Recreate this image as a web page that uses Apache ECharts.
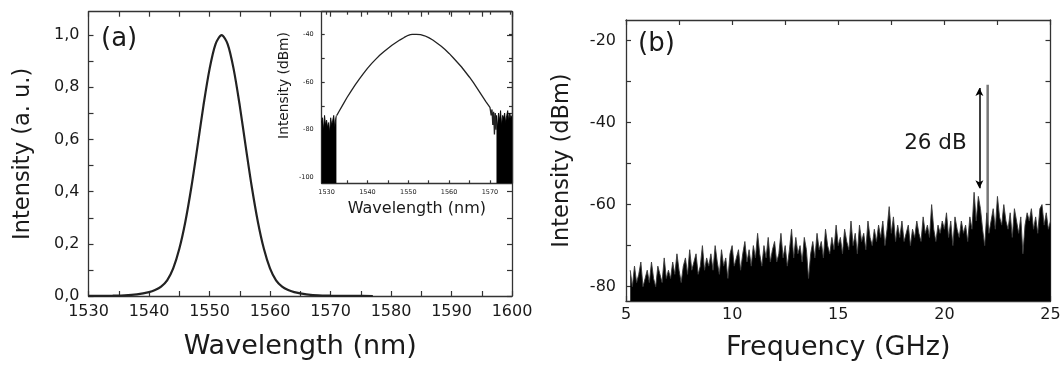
<!DOCTYPE html>
<html><head><meta charset="utf-8">
<script src="https://cdn.jsdelivr.net/npm/echarts@6/dist/echarts.min.js"></script>
<style>html,body{margin:0;padding:0;background:#fff}#c{width:1061px;height:365px}</style>
</head><body><div id="c"></div>
<script>
// ---------- Panel (a): main spectrum ----------
const mainWavelength = [1530,1532,1534,1536,1538,1540,1541,1542,1543,1544,1545,1546,1547,1548,1549,1550,1551,1552,1553,1554,1555,1556,1557,1558,1559,1560,1561,1562,1563,1564,1565,1566,1568,1570,1572,1574,1577];
const mainIntensity  = [0.0001,0.0005,0.0012,0.0025,0.0065,0.015,0.023,0.036,0.060,0.106,0.180,0.284,0.417,0.571,0.730,0.869,0.966,1.0,0.966,0.869,0.730,0.571,0.417,0.284,0.180,0.106,0.060,0.036,0.023,0.015,0.010,0.0065,0.0025,0.0012,0.0005,0.0002,0];
const mainXLabels = [1530,1540,1550,1560,1570,1580,1590,1600];
const mainXTicks  = [1530,1535,1540,1545,1550,1555,1560,1565,1570,1575,1580,1585,1590,1595,1600];
const mainYLabels = [0,0.2,0.4,0.6,0.8,1.0];
const mainYTicks  = [0,0.1,0.2,0.3,0.4,0.5,0.6,0.7,0.8,0.9,1.0];

// ---------- Panel (a) inset: log spectrum ----------
const insetWavelength = [1532.5,1533,1534,1535,1536,1537,1538,1539,1540,1541,1542,1543,1544,1545,1546,1547,1548,1549,1550,1550.5,1551,1552,1553,1554,1555,1556,1557,1558,1559,1560,1561,1562,1563,1564,1565,1566,1567,1568,1569,1570,1570.3,1570.5,1570.7,1570.9,1571.1,1571.3,1571.5,1571.6];
const insetDbm        = [-74,-72.5,-69.5,-66.5,-63.8,-61.2,-58.8,-56.5,-54.3,-52.3,-50.5,-48.8,-47.3,-45.9,-44.6,-43.4,-42.3,-41.3,-40.4,-40.1,-40,-40,-40.1,-40.6,-41.4,-42.4,-43.6,-44.9,-46.4,-48.0,-49.8,-51.7,-53.6,-55.8,-58.0,-60.4,-63.0,-65.6,-68.2,-70.6,-74,-71.5,-78,-72.5,-82,-73,-80,-74];
const insetNoiseLeftWl  = [1528.8,1529.0,1529.25,1529.5,1529.75,1530.0,1530.25,1530.5,1530.75,1531.0,1531.25,1531.5,1531.75,1532.0,1532.25,1532.4];
const insetNoiseLeftDbm = [-77,-75,-80,-74,-78,-76,-79,-77,-81,-75,-78,-76,-74,-79,-75,-74];
const insetNoiseRightWl  = [1571.6,1571.85,1572.1,1572.35,1572.6,1572.85,1573.1,1573.35,1573.6,1573.85,1574.1,1574.35,1574.6,1574.85,1575.1,1575.4];
const insetNoiseRightDbm = [-74,-79,-73,-76,-72,-78,-74,-75,-73,-77,-74,-72,-76,-73,-75,-74];
const insetXLabels = [1530,1540,1550,1560,1570];
const insetXTicks  = [1530,1535,1540,1545,1550,1555,1560,1565,1570,1575];
const insetYLabels = [-100,-80,-60,-40];
const insetYTicks  = [-100,-90,-80,-70,-60,-50,-40];

// ---------- Panel (b): RF spectrum ----------
const noiseFreqStart = 5.2, noiseFreqStep = 0.1;
const noiseDbm = [
 -76,-80,-75,-79,-77,-74,-80,-78,
 -76,-79,-74,-78,-80,-75,-77,-79,-73,-78,
 -76,-78,-74,-77,-72,-76,-79,-75,-73,-77,
 -71,-76,-74,-72,-77,-75,-70,-76,-73,-75,
 -72,-76,-70,-74,-77,-71,-75,-73,-78,-72,
 -70,-75,-73,-71,-76,-72,-69,-74,-71,-75,
 -70,-73,-67,-72,-75,-70,-73,-68,-74,-71,
 -69,-74,-72,-67,-73,-70,-75,-71,-66,-73,
 -68,-72,-70,-74,-68,-71,-78,-72,-69,-73,
 -67,-71,-69,-73,-66,-70,-72,-68,-71,-65,
 -70,-68,-72,-66,-69,-71,-64,-70,-67,-72,
 -65,-69,-67,-71,-64,-68,-70,-66,-69,-65,
 -68,-64,-70,-66,-60.5,-67,-63,-69,-65,-68,
 -64,-69,-67,-65,-70,-66,-68,-64,-67,-69,
 -63,-67,-65,-68,-60,-66,-69,-65,-67,-64,
 -66,-62,-68,-64,-70,-63,-66,-68,-64,-67,
 -65,-69,-63,-66,-57,-64,-58,-61,-66,-70,
 -62,-67,-64,-61,-66,-58,-63,-65,-60,-64,
 -66,-62,-68,-61,-64,-67,-63,-72,-65,-62,
 -64,-61,-66,-63,-67,-61,-60,-65,-62,-66,
 -64];
const signalFreq = 22.04, signalDbm = -30.8;
const arrowFreq = 21.65, arrowTopDbm = -31.6, arrowBottomDbm = -56.0;
const gapLabel = '26 dB', gapLabelFreq = 19.58, gapLabelDbm = -45.2;
const bXLabels = [5,10,15,20,25];
const bXTicks  = [5,7.5,10,12.5,15,17.5,20,22.5,25];
const bYLabels = [-80,-60,-40,-20];
const bYTicks  = [-80,-70,-60,-50,-40,-30,-20];
const bYMin = -83.5, bYMax = -15;

// ---------- build ----------
const zip = (xs, ys) => xs.map((x, i) => [x, ys[i]]);
const noiseData = noiseDbm.map((v, i) => [+(noiseFreqStart + i * noiseFreqStep).toFixed(2), v]);

const FONT = 'DejaVu Sans';
const AX = '#333';
const TXT = '#1a1a1a';
const plain = v => String(v);

function ax(o) {
  const base = {
    type: 'value', splitLine: {show: false},
    axisLine: {show: true, onZero: false, lineStyle: {color: AX, width: 1.3}},
    axisTick: {show: true, inside: true, length: o._tl || 5, lineStyle: {color: AX, width: 1.2}, customValues: o._ticks},
    axisLabel: o._labels ? {show: true, customValues: o._labels, fontFamily: FONT, fontSize: o._fs || 16, color: TXT, margin: o._lm || 8, formatter: o._fmt || plain} : {show: false},
    nameTextStyle: {fontFamily: FONT, color: TXT}
  };
  const r = Object.assign(base, o);
  delete r._tl; delete r._ticks; delete r._labels; delete r._fs; delete r._lm; delete r._fmt;
  return r;
}

const chart = echarts.init(document.getElementById('c'), null, {renderer: 'canvas'});
chart.setOption({
  animation: false,
  backgroundColor: '#fff',
  grid: [
    {left: 88.5, top: 11.7, width: 423.5, height: 284.3, outerBoundsMode: 'none', containLabel: false},
    {left: 321.7, top: 11.7, width: 190.3, height: 171.6, show: true, backgroundColor: '#fff', borderWidth: 0, outerBoundsMode: 'none', containLabel: false},
    {left: 626, top: 20, width: 424.5, height: 281, outerBoundsMode: 'none', containLabel: false}
  ],
  xAxis: [
    ax({gridIndex: 0, position: 'bottom', min: 1530, max: 1600, _ticks: mainXTicks, _labels: mainXLabels, _lm: 8,
        name: 'Wavelength (nm)', nameLocation: 'middle', nameGap: 37, nameTextStyle: {fontFamily: FONT, fontSize: 27, color: TXT}}),
    ax({gridIndex: 0, position: 'top', min: 1530, max: 1600, _ticks: mainXTicks}),
    ax({gridIndex: 1, position: 'bottom', min: 1528.8, max: 1575.4, _ticks: insetXTicks, _labels: insetXLabels, _fs: 6.5, _lm: 6, _tl: 3,
        name: 'Wavelength (nm)', nameLocation: 'middle', nameGap: 18, nameTextStyle: {fontFamily: FONT, fontSize: 16, color: TXT}}),
    ax({gridIndex: 1, position: 'top', min: 1528.8, max: 1575.4, _ticks: insetXTicks, _tl: 3}),
    ax({gridIndex: 2, position: 'bottom', min: 5, max: 25, _ticks: bXTicks, _labels: bXLabels, _lm: 6,
        name: 'Frequency (GHz)', nameLocation: 'middle', nameGap: 33, nameTextStyle: {fontFamily: FONT, fontSize: 27, color: TXT}}),
    ax({gridIndex: 2, position: 'top', min: 5, max: 25, _ticks: bXTicks})
  ],
  yAxis: [
    ax({gridIndex: 0, position: 'left', min: 0, max: 1.09, _ticks: mainYTicks, _labels: mainYLabels, _lm: 9,
        _fmt: v => v.toFixed(1).replace('.', ','),
        name: 'Intensity (a. u.)', nameLocation: 'middle', nameGap: 54, nameTextStyle: {fontFamily: FONT, fontSize: 22.5, color: TXT}}),
    ax({gridIndex: 0, position: 'right', min: 0, max: 1.09, _ticks: mainYTicks}),
    ax({gridIndex: 1, position: 'left', min: -102.5, max: -30.5, _ticks: insetYTicks, _labels: insetYLabels, _fs: 6.5, _lm: 8, _tl: 3,
        name: 'Intensity (dBm)', nameLocation: 'middle', nameGap: 30, nameTextStyle: {fontFamily: FONT, fontSize: 13.8, color: TXT, padding: [0, 0, 0, 24]}}),
    ax({gridIndex: 1, position: 'right', min: -102.5, max: -30.5, _ticks: insetYTicks, _tl: 3}),
    ax({gridIndex: 2, position: 'left', min: bYMin, max: bYMax, _ticks: bYTicks, _labels: bYLabels, _lm: 10,
        name: 'Intensity (dBm)', nameLocation: 'middle', nameGap: 52, nameTextStyle: {fontFamily: FONT, fontSize: 22.5, color: TXT}}),
    ax({gridIndex: 2, position: 'right', min: bYMin, max: bYMax, _ticks: bYTicks})
  ],
  series: [
    {type: 'line', xAxisIndex: 0, yAxisIndex: 0, data: zip(mainWavelength, mainIntensity), showSymbol: false, smooth: 0.3,
     lineStyle: {color: '#222', width: 2.2}, z: 3},
    {type: 'line', xAxisIndex: 2, yAxisIndex: 2, data: zip(insetWavelength, insetDbm), showSymbol: false,
     lineStyle: {color: '#222', width: 1.3}, z: 5},
    {type: 'line', xAxisIndex: 2, yAxisIndex: 2, data: zip(insetNoiseLeftWl, insetNoiseLeftDbm), showSymbol: false,
     lineStyle: {color: '#000', width: 0.8}, areaStyle: {color: '#000', opacity: 1, origin: 'start'}, z: 5},
    {type: 'line', xAxisIndex: 2, yAxisIndex: 2, data: zip(insetNoiseRightWl, insetNoiseRightDbm), showSymbol: false,
     lineStyle: {color: '#000', width: 0.8}, areaStyle: {color: '#000', opacity: 1, origin: 'start'}, z: 5},
    {type: 'line', xAxisIndex: 4, yAxisIndex: 4, data: [[signalFreq, bYMin], [signalFreq, signalDbm]], showSymbol: false,
     lineStyle: {color: '#777', width: 2.5}, z: 2},
    {type: 'line', xAxisIndex: 4, yAxisIndex: 4, data: noiseData, showSymbol: false,
     lineStyle: {color: '#3a3a3a', width: 0.9}, areaStyle: {color: '#000', opacity: 1, origin: 'start'}, z: 3,
     markLine: {silent: true, symbol: ['arrow', 'arrow'], symbolSize: [6, 8], label: {show: false},
       lineStyle: {color: '#000', width: 1.5, type: 'solid'},
       data: [[{coord: [arrowFreq, arrowTopDbm]}, {coord: [arrowFreq, arrowBottomDbm]}]]},
     markPoint: {silent: true, symbol: 'circle', symbolSize: 1, itemStyle: {color: 'rgba(0,0,0,0)'},
       label: {show: true, position: 'inside', formatter: gapLabel, fontFamily: FONT, fontSize: 21.5, color: TXT},
       data: [{coord: [gapLabelFreq, gapLabelDbm]}]}
    }
  ],
  graphic: [
    {type: 'text', left: 101, top: 26, style: {text: '(a)', fontFamily: FONT, fontSize: 26, fill: TXT}},
    {type: 'text', left: 638, top: 31, style: {text: '(b)', fontFamily: FONT, fontSize: 26, fill: TXT}}
  ]
});
</script>
</body></html>
